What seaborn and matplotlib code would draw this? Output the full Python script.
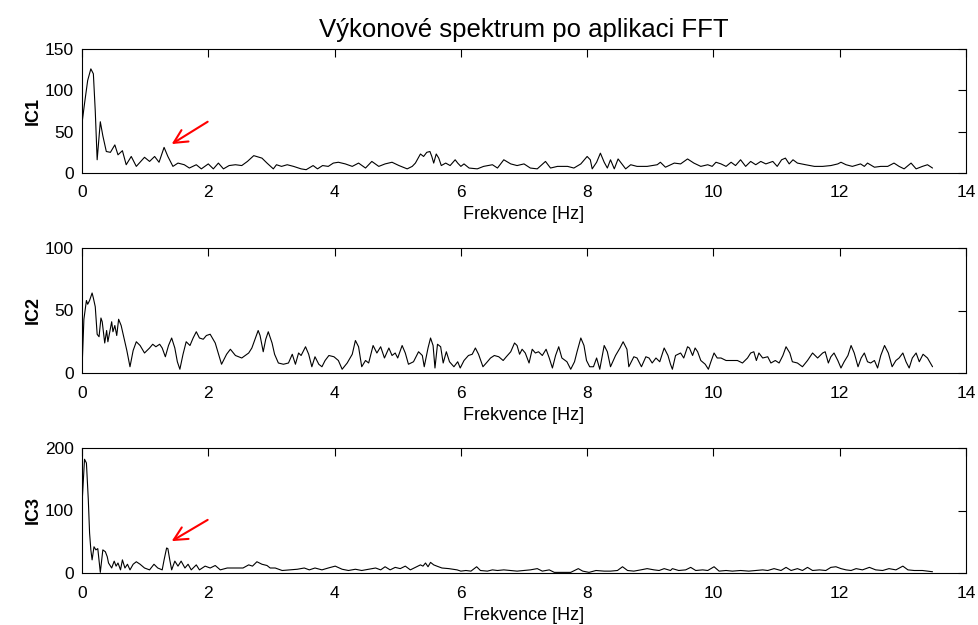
import numpy as np
import matplotlib
matplotlib.use("Agg")
import matplotlib.pyplot as plt
import seaborn as sns

# ---------------- data ----------------
f_ic1 = [0.00, 0.04, 0.09, 0.14, 0.18, 0.21, 0.24, 0.29, 0.33, 0.385, 0.45, 0.52, 0.57, 0.64, 0.70, 0.78,
         0.86, 0.93, 0.99, 1.07, 1.15, 1.22, 1.30, 1.36, 1.44, 1.52, 1.62, 1.70, 1.81, 1.89, 2.00, 2.08,
         2.16, 2.24, 2.33, 2.43, 2.53, 2.62, 2.72, 2.85, 2.93, 3.03, 3.08, 3.16, 3.25, 3.35, 3.47, 3.55,
         3.66, 3.73, 3.81, 3.90, 3.98, 4.06, 4.17, 4.28, 4.38, 4.49, 4.59, 4.70, 4.80, 4.91, 5.02, 5.15,
         5.23, 5.28, 5.36, 5.41, 5.46, 5.51, 5.54, 5.57, 5.61, 5.65, 5.69, 5.76, 5.83, 5.91, 5.95, 6.00,
         6.05, 6.13, 6.26, 6.36, 6.50, 6.58, 6.68, 6.79, 6.89, 7.00, 7.10, 7.21, 7.34, 7.42, 7.53, 7.69,
         7.79, 7.90, 8.00, 8.05, 8.08, 8.15, 8.21, 8.27, 8.32, 8.37, 8.43, 8.49, 8.54, 8.61, 8.69, 8.79,
         8.95, 9.11, 9.16, 9.24, 9.38, 9.48, 9.59, 9.69, 9.80, 9.91, 9.98, 10.04, 10.12, 10.20, 10.28,
         10.35, 10.43, 10.51, 10.59, 10.67, 10.75, 10.83, 10.94, 11.01, 11.08, 11.14, 11.20, 11.26, 11.33,
         11.46, 11.60, 11.73, 11.86, 11.97, 12.02, 12.10, 12.20, 12.33, 12.39, 12.44, 12.55, 12.65, 12.76,
         12.86, 12.94, 13.02, 13.13, 13.21, 13.31, 13.39, 13.47]
p_ic1 = [60, 84, 112, 126, 120, 75, 16, 62, 45, 26, 25, 34, 22, 27, 10, 20,
         8, 14, 19, 14, 20, 13, 31, 20, 8, 12, 10, 6, 10, 5, 11, 5,
         12, 5, 9, 10, 9, 14, 21, 18, 12, 5, 10, 8, 10, 8, 5, 4,
         9, 5, 9, 8, 12, 13, 11, 8, 12, 6, 14, 8, 11, 13, 9, 5,
         8, 12, 23, 20, 25, 26, 20, 12, 23, 18, 9, 12, 9, 16, 12, 8,
         11, 6, 5, 8, 10, 6, 16, 11, 9, 11, 6, 5, 14, 6, 8, 8,
         6, 11, 20, 16, 5, 13, 24, 13, 6, 16, 5, 17, 12, 5, 10, 8,
         8, 10, 13, 7, 12, 11, 17, 12, 8, 10, 8, 13, 11, 8, 13,
         9, 16, 8, 14, 10, 14, 11, 14, 8, 16, 18, 11, 16, 12,
         10, 8, 8, 9, 11, 13, 10, 8, 11, 8, 12, 7, 8, 8,
         12, 8, 5, 12, 5, 8, 10, 6]

f_ic2 = [0.00, 0.03, 0.07, 0.09, 0.12, 0.16, 0.18, 0.21, 0.24, 0.27, 0.30, 0.32, 0.36, 0.39, 0.41, 0.47,
         0.49, 0.52, 0.55, 0.58, 0.62, 0.67, 0.71, 0.76, 0.81, 0.86, 0.92, 0.99, 1.07, 1.12, 1.17, 1.23,
         1.27, 1.32, 1.37, 1.42, 1.47, 1.51, 1.55, 1.60, 1.65, 1.71, 1.76, 1.81, 1.86, 1.92, 1.97, 2.03,
         2.11, 2.21, 2.29, 2.35, 2.43, 2.53, 2.64, 2.69, 2.74, 2.79, 2.82, 2.87, 2.91, 2.95, 3.01, 3.05,
         3.11, 3.19, 3.27, 3.33, 3.38, 3.43, 3.47, 3.54, 3.59, 3.64, 3.69, 3.75, 3.80, 3.85, 3.91, 3.99,
         4.06, 4.12, 4.20, 4.28, 4.33, 4.38, 4.43, 4.49, 4.54, 4.61, 4.67, 4.73, 4.79, 4.86, 4.91, 4.96,
         5.00, 5.07, 5.12, 5.17, 5.25, 5.33, 5.39, 5.42, 5.48, 5.52, 5.56, 5.59, 5.63, 5.68, 5.72, 5.77,
         5.82, 5.89, 5.95, 5.99, 6.05, 6.12, 6.18, 6.23, 6.28, 6.35, 6.42, 6.47, 6.53, 6.60, 6.67, 6.72,
         6.79, 6.85, 6.89, 6.93, 6.97, 7.02, 7.08, 7.13, 7.18, 7.23, 7.29, 7.35, 7.40, 7.45, 7.50, 7.55,
         7.60, 7.68, 7.74, 7.80, 7.84, 7.90, 7.95, 7.99, 8.04, 8.10, 8.15, 8.20, 8.27, 8.32, 8.37, 8.45,
         8.52, 8.57, 8.63, 8.66, 8.74, 8.79, 8.86, 8.93, 8.98, 9.03, 9.09, 9.15, 9.22, 9.28, 9.32, 9.35,
         9.40, 9.48, 9.53, 9.59, 9.62, 9.67, 9.71, 9.75, 9.80, 9.87, 9.92, 9.96, 10.01, 10.06, 10.12, 10.20,
         10.30, 10.38, 10.46, 10.54, 10.59, 10.64, 10.68, 10.72, 10.78, 10.86, 10.91, 10.98, 11.04, 11.10,
         11.15, 11.21, 11.25, 11.33, 11.41, 11.49, 11.57, 11.65, 11.73, 11.77, 11.82, 11.86, 11.91, 11.97,
         12.02, 12.07, 12.13, 12.18, 12.23, 12.29, 12.34, 12.39, 12.44, 12.49, 12.55, 12.60, 12.65, 12.71,
         12.77, 12.83, 12.89, 12.94, 13.00, 13.05, 13.10, 13.15, 13.21, 13.26, 13.32, 13.39, 13.47]
p_ic2 = [3, 43, 58, 55, 58, 64, 60, 53, 31, 29, 44, 41, 24, 34, 25, 41,
         33, 38, 30, 43, 38, 27, 18, 5, 18, 25, 22, 16, 20, 23, 21, 23,
         20, 13, 22, 28, 20, 9, 3, 15, 25, 22, 28, 33, 28, 27, 30, 31,
         24, 7, 15, 19, 14, 12, 16, 20, 27, 34, 30, 17, 27, 33, 24, 15,
         8, 7, 8, 15, 7, 16, 14, 21, 15, 5, 13, 7, 5, 10, 14, 13,
         10, 3, 8, 15, 26, 21, 5, 10, 8, 22, 16, 21, 12, 20, 14, 16,
         12, 22, 16, 7, 9, 17, 14, 5, 20, 28, 22, 4, 23, 21, 8, 17,
         9, 5, 9, 4, 10, 14, 15, 20, 15, 5, 9, 12, 14, 13, 10, 13,
         17, 24, 22, 15, 19, 16, 8, 19, 16, 17, 14, 19, 12, 4, 14, 21,
         12, 9, 3, 9, 17, 28, 22, 10, 5, 5, 12, 3, 22, 17, 5, 14,
         20, 25, 19, 5, 13, 12, 5, 13, 12, 8, 12, 9, 20, 14, 7, 3,
         14, 16, 12, 21, 20, 14, 20, 17, 10, 7, 3, 9, 16, 12, 12, 10,
         10, 10, 8, 12, 16, 17, 10, 16, 12, 13, 8, 10, 8, 14,
         21, 16, 9, 8, 5, 10, 16, 12, 16, 17, 8, 13, 16, 10,
         4, 9, 14, 22, 16, 5, 12, 16, 9, 8, 10, 4, 14, 22,
         16, 5, 10, 12, 16, 9, 4, 12, 16, 9, 15, 12, 5]

f_ic3 = [0.00, 0.04, 0.07, 0.10, 0.12, 0.14, 0.16, 0.19, 0.22, 0.25, 0.29, 0.33, 0.37, 0.40, 0.42, 0.47,
         0.51, 0.54, 0.57, 0.61, 0.64, 0.68, 0.72, 0.76, 0.81, 0.86, 0.92, 0.99, 1.07, 1.14, 1.20, 1.27,
         1.30, 1.34, 1.36, 1.39, 1.42, 1.47, 1.52, 1.57, 1.63, 1.68, 1.73, 1.81, 1.86, 1.95, 2.03, 2.11,
         2.19, 2.30, 2.43, 2.55, 2.64, 2.70, 2.77, 2.85, 2.93, 2.98, 3.06, 3.17, 3.30, 3.41, 3.52, 3.60,
         3.69, 3.80, 3.90, 4.01, 4.12, 4.22, 4.33, 4.43, 4.54, 4.65, 4.73, 4.80, 4.88, 4.96, 5.04, 5.12,
         5.20, 5.28, 5.36, 5.40, 5.44, 5.48, 5.52, 5.57, 5.62, 5.70, 5.81, 5.94, 6.00, 6.08, 6.16, 6.25,
         6.31, 6.42, 6.50, 6.58, 6.68, 6.79, 6.89, 7.00, 7.10, 7.21, 7.29, 7.40, 7.48, 7.58, 7.74, 7.86,
         7.93, 8.03, 8.14, 8.27, 8.37, 8.48, 8.56, 8.64, 8.74, 8.85, 8.95, 9.06, 9.14, 9.22, 9.32, 9.35,
         9.45, 9.56, 9.64, 9.72, 9.83, 9.91, 10.01, 10.09, 10.20, 10.30, 10.43, 10.56, 10.67, 10.78, 10.86,
         10.96, 11.07, 11.15, 11.23, 11.33, 11.41, 11.49, 11.57, 11.68, 11.78, 11.86, 11.94, 12.02, 12.10,
         12.18, 12.26, 12.36, 12.47, 12.57, 12.68, 12.78, 12.89, 13.00, 13.08, 13.18, 13.31, 13.47]
p_ic3 = [110, 182, 176, 117, 64, 37, 21, 42, 37, 39, 1, 37, 34, 26, 16, 8,
         19, 11, 16, 5, 21, 8, 14, 5, 14, 18, 14, 8, 5, 14, 8, 5,
         21, 40, 39, 21, 5, 19, 11, 19, 8, 14, 5, 13, 5, 11, 8, 12,
         5, 8, 8, 8, 13, 11, 18, 14, 12, 8, 8, 4, 5, 6, 8, 5,
         8, 5, 8, 11, 6, 4, 6, 4, 6, 8, 5, 10, 5, 9, 7, 11,
         5, 9, 13, 11, 16, 10, 17, 13, 11, 8, 7, 5, 3, 4, 3, 10,
         4, 3, 5, 4, 5, 4, 3, 4, 5, 7, 3, 5, 1, 1, 1, 7,
         3, 1, 4, 3, 3, 4, 10, 4, 3, 5, 7, 5, 4, 7, 4, 7,
         4, 5, 9, 4, 5, 4, 10, 3, 4, 3, 4, 3, 4, 5, 4,
         7, 4, 9, 4, 7, 4, 9, 4, 5, 4, 9, 10, 7, 5,
         4, 7, 5, 9, 5, 4, 7, 5, 11, 5, 4, 4, 2]

panel_labels = ["IC1", "IC2", "IC3"]
y_limits = [150, 100, 200]
y_ticks = [[0, 50, 100, 150], [0, 50, 100], [0, 100, 200]]
x_ticks = [0, 2, 4, 6, 8, 10, 12, 14]
title_text = "Výkonové spektrum po aplikaci FFT"
x_label = "Frekvence [Hz]"
# arrows: (tail freq, tail value, head freq, head value) for IC1 and IC3
arrow_ic1 = (1.99, 62, 1.42, 35)
arrow_ic3 = (1.99, 85, 1.42, 51)

# ---------------- plotting ----------------
sns.set_theme(style="white")
plt.rcParams["font.family"] = ["Liberation Sans", "DejaVu Sans"]

W, H = 979, 625
fig = plt.figure(figsize=(W / 100, H / 100), dpi=100)

left = 82 / W
width = (966 - 82) / W
boxes = [(49, 173), (248, 373), (448, 573)]

series = [(f_ic1, p_ic1), (f_ic2, p_ic2), (f_ic3, p_ic3)]
axes = []
for i, ((top, bot), (fx, py)) in enumerate(zip(boxes, series)):
    ax = fig.add_axes([left, 1 - bot / H, width, (bot - top) / H])
    sns.lineplot(x=fx, y=py, ax=ax, color="black", linewidth=0.8,
                 estimator=None, sort=False)
    ax.set_xlim(0, 14)
    ax.set_ylim(0, y_limits[i])
    ax.set_xticks(x_ticks)
    ax.set_yticks(y_ticks[i])
    ax.tick_params(direction="in", length=6, width=0.8, top=True, right=True,
                   labelsize=12.5, colors="black")
    ax.tick_params(axis="x", pad=9)
    ax.tick_params(axis="y", pad=6)
    for s in ax.spines.values():
        s.set_color("black")
        s.set_linewidth(0.8)
        s.set_visible(True)
    ax.set_xlabel(x_label, fontsize=13, color="black")
    ax.xaxis.set_label_coords(0.5, -0.27)
    ax.set_ylabel(panel_labels[i], fontsize=13, fontweight="bold", color="black")
    ax.yaxis.set_label_coords(-0.045, 0.5)
    ax.set_facecolor("white")
    ax.grid(False)
    axes.append(ax)

for ax, arr in ((axes[0], arrow_ic1), (axes[2], arrow_ic3)):
    ax.annotate("", xy=(arr[2], arr[3]), xytext=(arr[0], arr[1]),
                arrowprops=dict(arrowstyle="->,head_length=0.8,head_width=0.4",
                                color="red", lw=1.5, shrinkA=0, shrinkB=0))

fig.text(left + width / 2, 1 - 30 / H, title_text, ha="center", va="center",
         fontsize=18.5, color="black")

fig.savefig("out.png", dpi=100, facecolor="white")
